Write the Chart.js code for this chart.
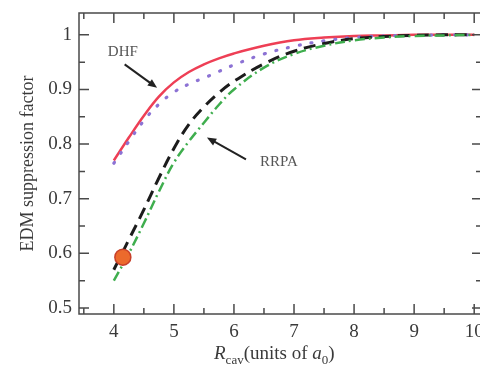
<!DOCTYPE html>
<html>
<head>
<meta charset="utf-8">
<script src="https://cdn.jsdelivr.net/npm/chart.js@4.4.1/dist/chart.umd.min.js"></script>
<style>
  html, body { margin: 0; padding: 0; background: #fff; overflow: hidden; }
  #wrap { width: 484px; height: 367px; }
</style>
</head>
<body>
<div id="wrap"><canvas id="c" width="484" height="367"></canvas></div>
<script>
// --- data ---
const rcav = [4, 4.25, 4.5, 4.75, 5, 5.25, 5.5, 5.75, 6, 6.5, 7, 7.5, 8, 8.5, 9, 9.5, 10];
const dhfSolid  = [0.77, 0.812, 0.852, 0.887, 0.913, 0.932, 0.946, 0.957, 0.966, 0.98, 0.99, 0.995, 0.998, 0.999, 1.0, 1.0, 1.0];
const dhfDotted = [0.765, 0.805, 0.843, 0.873, 0.895, 0.91, 0.921, 0.933, 0.945, 0.965, 0.979, 0.989, 0.995, 0.998, 0.999, 1.0, 1.0];
const rrpaDash  = [0.57, 0.625, 0.68, 0.738, 0.792, 0.836, 0.868, 0.894, 0.915, 0.947, 0.97, 0.984, 0.993, 0.997, 0.999, 1.0, 1.0];
const rrpaDashDot = [0.55, 0.6, 0.655, 0.713, 0.766, 0.805, 0.839, 0.872, 0.9, 0.94, 0.965, 0.98, 0.99, 0.995, 0.998, 0.999, 1.0];
const markerPoint = [{ x: 4.15, y: 0.593 }];
const yTicks = [0.5, 0.6, 0.7, 0.8, 0.9, 1];

const serif = '"Liberation Serif", "DejaVu Serif", serif';
const axisColor = '#4a4a4a';
const textColor = '#3a3a3a';

function pts(ys) { return rcav.map((x, i) => ({ x: x, y: ys[i] })); }

// frame, inward ticks, annotations, x title
const decor = {
    id: 'decor',
    afterDraw(chart) {
        const ctx = chart.ctx;
        const a = chart.chartArea;
        const xs = chart.scales.x, ys = chart.scales.y;
        ctx.save();
        ctx.strokeStyle = axisColor;
        ctx.lineWidth = 1.5;
        ctx.strokeRect(a.left, a.top, a.right - a.left, a.bottom - a.top);

        // x ticks (major + minor) on bottom and top
        for (let v = 3.5; v <= 10.01; v += 0.5) {
            const px = xs.getPixelForValue(v);
            if (px < a.left || px > a.right) continue;
            const len = Math.abs(v - Math.round(v)) < 1e-6 ? 10 : 6;
            ctx.beginPath();
            ctx.moveTo(px, a.bottom); ctx.lineTo(px, a.bottom - len);
            ctx.moveTo(px, a.top); ctx.lineTo(px, a.top + len);
            ctx.stroke();
        }
        // y ticks on left and right
        for (let v = 0.5; v <= 1.001; v += 0.05) {
            const py = ys.getPixelForValue(v);
            const major = Math.abs(v * 10 - Math.round(v * 10)) < 1e-6;
            const len = major ? 10 : 6;
            ctx.beginPath();
            ctx.moveTo(a.left, py); ctx.lineTo(a.left + len, py);
            ctx.moveTo(a.right, py); ctx.lineTo(a.right - len, py);
            ctx.stroke();
        }

        // annotations
        ctx.fillStyle = '#555';
        ctx.strokeStyle = '#222';
        ctx.font = '15px ' + serif;
        ctx.textAlign = 'center';
        ctx.textBaseline = 'middle';
        ctx.fillText('DHF', xs.getPixelForValue(4.15), ys.getPixelForValue(0.969));
        ctx.fillText('RRPA', xs.getPixelForValue(6.75), ys.getPixelForValue(0.767));
        arrow(ctx, xs.getPixelForValue(4.18), ys.getPixelForValue(0.946), xs.getPixelForValue(4.72), ys.getPixelForValue(0.903));
        arrow(ctx, xs.getPixelForValue(6.2), ys.getPixelForValue(0.772), xs.getPixelForValue(5.55), ys.getPixelForValue(0.812));

        // x title: R_cav(units of a_0)
        let x = 214, base = 359;
        ctx.fillStyle = textColor;
        ctx.textAlign = 'left';
        ctx.textBaseline = 'alphabetic';
        const parts = [
            ['italic 19px ', 'R', 0],
            ['13px ', 'cav', 5],
            ['19px ', '(units of ', 0],
            ['italic 19px ', 'a', 0],
            ['13px ', '0', 5],
            ['19px ', ')', 0]
        ];
        parts.forEach(p => {
            ctx.font = p[0] + serif;
            ctx.fillText(p[1], x, base + p[2]);
            x += ctx.measureText(p[1]).width;
        });
        ctx.restore();
    }
};

function arrow(ctx, x1, y1, x2, y2) {
    const ang = Math.atan2(y2 - y1, x2 - x1);
    ctx.lineWidth = 2;
    ctx.beginPath();
    ctx.moveTo(x1, y1);
    ctx.lineTo(x2 - 6 * Math.cos(ang), y2 - 6 * Math.sin(ang));
    ctx.stroke();
    ctx.beginPath();
    ctx.moveTo(x2, y2);
    ctx.lineTo(x2 - 10 * Math.cos(ang - 0.4), y2 - 10 * Math.sin(ang - 0.4));
    ctx.lineTo(x2 - 10 * Math.cos(ang + 0.4), y2 - 10 * Math.sin(ang + 0.4));
    ctx.closePath();
    ctx.fillStyle = '#222';
    ctx.fill();
}

const line = (data, color, dash, width) => ({
    data: pts(data), borderColor: color, borderDash: dash, borderWidth: width,
    pointRadius: 0, fill: false, tension: 0.4, showLine: true, borderCapStyle: 'butt'
});

new Chart(document.getElementById('c').getContext('2d'), {
    type: 'scatter',
    data: {
        datasets: [
            { data: markerPoint, pointRadius: 8, pointBackgroundColor: '#ec6a2c', pointBorderColor: '#c8402a', pointBorderWidth: 1.5, showLine: false },
            line(rrpaDashDot, '#3fae4e', [10, 4, 2, 4], 2.5),
            line(rrpaDash, '#1c1c1c', [12, 7], 3),
            Object.assign(line(dhfDotted, '#8c72d4', [1, 11], 3.2), { borderCapStyle: 'round' }),
            line(dhfSolid, '#ee3f55', [], 2.5)
        ]
    },
    options: {
        responsive: false,
        animation: false,
        layout: { autoPadding: false, padding: { top: 13, right: 2, left: 0, bottom: 0 } },
        scales: {
            x: {
                type: 'linear', min: 3.42, max: 10.13,
                afterFit(s) { s.height = 53; s.paddingLeft = 0; s.paddingRight = 0; },
                ticks: { stepSize: 1, includeBounds: false, padding: 7, color: textColor, font: { family: serif, size: 19 } },
                grid: { display: false, drawTicks: false },
                border: { display: false }
            },
            y: {
                min: 0.489, max: 1.04,
                afterFit(s) { s.width = 79; s.paddingTop = 0; s.paddingBottom = 0; },
                afterBuildTicks(s) { s.ticks = yTicks.map(v => ({ value: v })); },
                ticks: { padding: 7, color: textColor, font: { family: serif, size: 19 }, callback: v => String(v) },
                grid: { display: false, drawTicks: false },
                border: { display: false },
                title: { display: true, text: 'EDM suppression factor', color: textColor, font: { family: serif, size: 18 }, padding: { top: 17, bottom: 0 } }
            }
        },
        plugins: { legend: { display: false }, tooltip: { enabled: false } }
    },
    plugins: [decor]
});
</script>
</body>
</html>
